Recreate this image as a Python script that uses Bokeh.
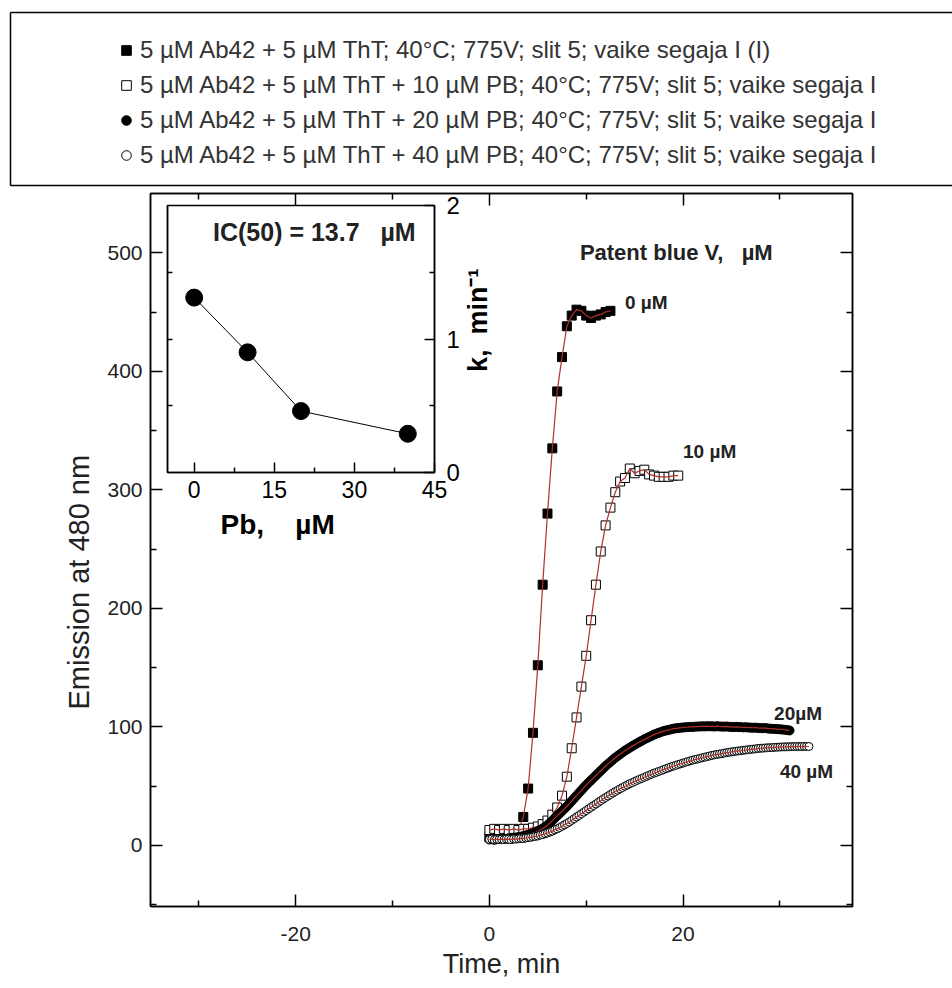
import math
from bokeh.plotting import figure
from bokeh.models import (LinearAxis, FixedTicker, Range1d, Legend, LegendItem, Label,
                          CustomJSTickFormatter)
from bokeh.embed import file_html
from bokeh.resources import INLINE

# ---------------- data ----------------
t_0uM = [0, 0.5, 1, 1.5, 2, 2.5, 3, 3.5, 4, 4.5, 5, 5.5, 6, 6.5, 7, 7.5, 8, 8.5, 9, 9.5,
         10, 10.5, 11, 11.5, 12, 12.5]
y_0uM = [7, 8, 7, 8, 8, 9, 12, 24, 48, 95, 152, 220, 280, 335, 383, 412, 438, 447, 452, 451,
         447, 445, 447, 448, 450, 451]

t_10uM = [0, 0.5, 1, 1.5, 2, 2.5, 3, 3.5, 4, 4.5, 5, 5.5, 6, 6.5, 7, 7.5, 8, 8.5, 9, 9.5,
          10, 10.5, 11, 11.5, 12, 12.5, 13, 13.5, 14, 14.5, 15, 15.5, 16, 16.5, 17, 17.5,
          18, 18.5, 19, 19.5]
y_10uM = [13, 14, 13, 14, 13, 14, 13, 14, 14, 15, 16, 18, 21, 26, 32, 42, 58, 82, 108, 134,
          160, 190, 220, 248, 270, 285, 298, 307, 310, 318, 314, 316, 317, 313, 312, 311,
          311, 311, 312, 312]

t_20uM = [0, 0.25, 0.5, 0.75, 1, 1.25, 1.5, 1.75, 2, 2.25, 2.5, 2.75, 3, 3.25, 3.5, 3.75,
          4, 4.25, 4.5, 4.75, 5, 5.25, 5.5, 5.75, 6, 6.25, 6.5, 6.75, 7, 7.25, 7.5, 7.75,
          8, 8.25, 8.5, 8.75, 9, 9.25, 9.5, 9.75, 10, 10.25, 10.5, 10.75, 11, 11.25, 11.5, 11.75,
          12, 12.25, 12.5, 12.75, 13, 13.25, 13.5, 13.75, 14, 14.25, 14.5, 14.75, 15, 15.25, 15.5, 15.75,
          16, 16.25, 16.5, 16.75, 17, 17.25, 17.5, 17.75, 18, 18.25, 18.5, 18.75, 19, 19.25, 19.5, 19.75,
          20, 20.25, 20.5, 20.75, 21, 21.25, 21.5, 21.75, 22, 22.25, 22.5, 22.75, 23, 23.25, 23.5, 23.75,
          24, 24.25, 24.5, 24.75, 25, 25.25, 25.5, 25.75, 26, 26.25, 26.5, 26.75, 27, 27.25, 27.5, 27.75,
          28, 28.25, 28.5, 28.75, 29, 29.25, 29.5, 29.75, 30, 30.25, 30.5, 30.75, 31]
y_20uM = [5.0, 5.3, 4.8, 5.2, 5.5, 5.3, 5.7, 5.6, 6.0, 6.2, 6.4, 6.7, 7.0, 7.4, 7.9, 8.4,
          9.0, 9.6, 10.4, 11.1, 12.0, 13.1, 14.3, 15.6, 17.0, 19.0, 21.0, 23.0, 25.0, 27.0, 29.0, 31.0,
          33.0, 35.2, 37.5, 39.8, 42.0, 44.3, 46.5, 48.8, 51.0, 53.0, 55.0, 57.0, 59.0, 61.0, 63.0, 65.0,
          67.0, 68.8, 70.5, 72.3, 74.0, 75.5, 77.0, 78.5, 80.0, 81.2, 82.5, 83.8, 85.0, 86.2, 87.3, 88.4,
          89.5, 90.5, 91.5, 92.5, 93.5, 94.3, 95.0, 95.8, 96.5, 97.0, 97.5, 98.0, 98.5, 98.8, 99.0, 99.3,
          99.5, 99.7, 99.8, 100.0, 100.0, 100.2, 100.3, 100.4, 100.5, 100.4, 100.6, 100.5, 100.5, 100.3, 100.6, 100.4,
          100.3, 100.2, 100.4, 100.1, 100.0, 99.9, 100.1, 99.8, 99.8, 99.6, 99.7, 99.5, 99.4, 99.3, 99.4, 99.1,
          99.0, 98.9, 99.0, 98.7, 98.5, 98.4, 98.3, 98.1, 98.0, 97.8, 97.6, 97.3, 97.0]

t_40uM = [0, 0.25, 0.5, 0.75, 1, 1.25, 1.5, 1.75, 2, 2.25, 2.5, 2.75, 3, 3.25, 3.5, 3.75,
          4, 4.25, 4.5, 4.75, 5, 5.25, 5.5, 5.75, 6, 6.25, 6.5, 6.75, 7, 7.25, 7.5, 7.75,
          8, 8.25, 8.5, 8.75, 9, 9.25, 9.5, 9.75, 10, 10.25, 10.5, 10.75, 11, 11.25, 11.5, 11.75,
          12, 12.25, 12.5, 12.75, 13, 13.25, 13.5, 13.75, 14, 14.25, 14.5, 14.75, 15, 15.25, 15.5, 15.75,
          16, 16.25, 16.5, 16.75, 17, 17.25, 17.5, 17.75, 18, 18.25, 18.5, 18.75, 19, 19.25, 19.5, 19.75,
          20, 20.25, 20.5, 20.75, 21, 21.25, 21.5, 21.75, 22, 22.25, 22.5, 22.75, 23, 23.25, 23.5, 23.75,
          24, 24.25, 24.5, 24.75, 25, 25.25, 25.5, 25.75, 26, 26.25, 26.5, 26.75, 27, 27.25, 27.5, 27.75,
          28, 28.25, 28.5, 28.75, 29, 29.25, 29.5, 29.75, 30, 30.25, 30.5, 30.75, 31, 31.25, 31.5, 31.75,
          32, 32.25, 32.5, 32.75, 33]
y_40uM = [5.0, 5.4, 4.8, 5.2, 5.0, 5.3, 4.9, 5.4, 5.2, 5.0, 5.5, 5.3, 5.6, 5.9, 5.8, 6.3,
          6.5, 6.8, 7.3, 7.6, 8.0, 8.7, 9.1, 9.9, 10.5, 11.3, 12.1, 13.2, 14.0, 15.1, 16.2, 17.4,
          18.5, 19.8, 21.2, 22.6, 24.0, 25.3, 26.8, 28.1, 29.5, 30.9, 32.2, 33.7, 35.0, 36.4, 37.8, 39.1,
          40.5, 41.7, 43.0, 44.3, 45.5, 46.6, 47.8, 48.9, 50.0, 51.0, 52.1, 53.0, 54.0, 54.9, 55.8, 56.6,
          57.5, 58.4, 59.3, 60.1, 61.0, 61.7, 62.5, 63.2, 64.0, 64.8, 65.5, 66.3, 67.0, 67.6, 68.3, 68.9,
          69.5, 70.2, 70.8, 71.4, 72.0, 72.5, 73.0, 73.5, 74.0, 74.5, 75.0, 75.5, 76.0, 76.4, 76.8, 77.1,
          77.5, 77.9, 78.3, 78.6, 79.0, 79.2, 79.5, 79.8, 80.0, 80.3, 80.5, 80.8, 81.0, 81.3, 81.5, 81.8,
          82.0, 82.1, 82.3, 82.4, 82.5, 82.6, 82.8, 82.9, 83.0, 83.1, 83.2, 83.2, 83.3, 83.4, 83.4, 83.5,
          83.5, 83.4, 83.6, 83.5, 83.5]

# inset: rate constant versus Patent blue concentration
pb_conc = [0, 10, 20, 40]
k_rate = [1.31, 0.90, 0.46, 0.29]

legend_labels = [
    "5 µM Ab42 + 5 µM ThT; 40°C; 775V; slit 5; vaike segaja I (I)",
    "5 µM Ab42 + 5 µM ThT + 10 µM PB; 40°C; 775V; slit 5; vaike segaja I",
    "5 µM Ab42 + 5 µM ThT + 20 µM PB; 40°C; 775V; slit 5; vaike segaja I",
    "5 µM Ab42 + 5 µM ThT + 40 µM PB; 40°C; 775V; slit 5; vaike segaja I",
]
curve_labels = ["0 µM", "10 µM", "20µM", "40 µM"]

main_x_ticks = [-20, 0, 20]
main_x_minor = [-30, -10, 10, 30]
main_y_ticks = [0, 100, 200, 300, 400, 500]
main_y_minor = [-50, 50, 150, 250, 350, 450]
inset_x_ticks = [0, 15, 30, 45]
inset_x_minor = [7.5, 22.5, 37.5]
inset_y_ticks = [0, 1, 2]
inset_y_minor = [0.5, 1.5]

FONT = "Liberation Sans"
FIT = "#b0302a"
NB = "\u00a0"

plain = CustomJSTickFormatter(code="return tick.toString()")
blank = CustomJSTickFormatter(code="return ''")


def style_axis(ax, ticks, minor, labels=True, size="21px"):
    ax.ticker = FixedTicker(ticks=ticks, minor_ticks=minor)
    ax.axis_line_width = 1.5
    ax.axis_line_color = "black"
    ax.major_tick_in = 12
    ax.major_tick_out = 0
    ax.minor_tick_in = 6
    ax.minor_tick_out = 0
    ax.major_tick_line_width = 1.5
    ax.minor_tick_line_width = 1.5
    ax.major_label_text_font = FONT
    ax.major_label_text_color = "#222222"
    if labels:
        ax.formatter = plain
        ax.major_label_text_font_size = size
    else:
        ax.formatter = blank
        ax.major_label_text_font_size = "0px"
        ax.major_label_standoff = 0


# ---------------- main figure ----------------
p = figure(width=952, height=988, x_range=Range1d(-35, 37.5), y_range=Range1d(-51.5, 550),
           output_backend="svg", toolbar_location=None,
           min_border_left=150, min_border_right=100, min_border_top=193, min_border_bottom=82)
p.xgrid.visible = False
p.ygrid.visible = False
p.outline_line_color = "black"
p.outline_line_width = 1.5
p.background_fill_color = "white"
p.border_fill_color = "white"

style_axis(p.xaxis[0], main_x_ticks, main_x_minor)
style_axis(p.yaxis[0], main_y_ticks, main_y_minor)
p.xaxis[0].major_label_standoff = 20
p.yaxis[0].major_label_standoff = 8
p.xaxis[0].axis_label = "Time, min"
# trailing no-break spaces push the visible title below the axis centre, as in the original
p.yaxis[0].axis_label = "Emission at 480 nm" + NB * 8
for ax in (p.xaxis[0], p.yaxis[0]):
    ax.axis_label_text_font = FONT
    ax.axis_label_text_font_style = "normal"
    ax.axis_label_text_color = "#222222"
p.xaxis[0].axis_label_text_font_size = "27px"
p.yaxis[0].axis_label_text_font_size = "29px"
p.xaxis[0].axis_label_standoff = 5
p.yaxis[0].axis_label_standoff = 9

top_ax = LinearAxis()
style_axis(top_ax, main_x_ticks, main_x_minor, labels=False)
p.add_layout(top_ax, "above")
right_ax = LinearAxis()
style_axis(right_ax, main_y_ticks, main_y_minor, labels=False)
p.add_layout(right_ax, "right")

# series
p.scatter(t_0uM, y_0uM, marker="square", size=9, fill_color="black", line_color="black")
p.line(t_0uM, y_0uM, line_color=FIT, line_width=1.2)
p.scatter(t_10uM, y_10uM, marker="square", size=9, fill_color="white", line_color="black",
          line_width=1)
p.line(t_10uM, y_10uM, line_color=FIT, line_width=1.2)
p.scatter(t_20uM, y_20uM, marker="circle", size=9, fill_color="black", line_color="black")
p.line(t_20uM, y_20uM, line_color=FIT, line_width=1.2)
p.scatter(t_40uM, y_40uM, marker="circle", size=8, fill_color="white", line_color="black",
          line_width=1)
p.line(t_40uM, y_40uM, line_color=FIT, line_width=1.2)

# curve annotations
ann_style = dict(text_font=FONT, text_font_style="bold", text_font_size="19px",
                 text_color="#222222", text_baseline="middle")
p.add_layout(Label(x=19.3, y=500, text="Patent blue V," + NB * 3 + "µM", text_align="center",
                   text_font=FONT, text_font_style="bold", text_font_size="22px",
                   text_color="#222222", text_baseline="middle"))
p.add_layout(Label(x=t_0uM[-1] + 1.5, y=458, text=curve_labels[0], **ann_style))
p.add_layout(Label(x=t_10uM[-1] + 0.5, y=332, text=curve_labels[1], **ann_style))
p.add_layout(Label(x=t_20uM[-1] - 1.6, y=111, text=curve_labels[2], **ann_style))
p.add_layout(Label(x=t_40uM[-1] - 3.0, y=62, text=curve_labels[3], **ann_style))

# inset's right-hand axis title (reads bottom-to-top, drawn on the main canvas behind the inset)
p.add_layout(Label(x=-1.2, y=443, text="k," + NB * 2 + "min⁻¹", angle=math.pi / 2,
                   text_align="center", text_baseline="middle", text_font=FONT,
                   text_font_style="bold", text_font_size="27px", text_color="black"))

# ---------------- legend box (separate small figure over the top margin) ----------------
lg = figure(width=952, height=190, x_range=Range1d(0, 1), y_range=Range1d(0, 1),
            output_backend="svg", toolbar_location=None,
            min_border_left=10, min_border_top=12, min_border_right=0, min_border_bottom=5)
lg.xaxis.visible = False
lg.yaxis.visible = False
lg.xgrid.visible = False
lg.ygrid.visible = False
lg.outline_line_color = None
lg.background_fill_alpha = 0
lg.border_fill_alpha = 0
for side in ("left", "above", "below"):
    a = LinearAxis()
    style_axis(a, [], [], labels=False)
    a.major_tick_in = 0
    a.minor_tick_in = 0
    lg.add_layout(a, side)

# hidden copies of the four series, used only as legend swatches
g0 = lg.scatter(t_0uM, y_0uM, marker="square", fill_color="black", line_color="black",
                visible=False)
g10 = lg.scatter(t_10uM, y_10uM, marker="square", fill_color="white", line_color="black",
                 visible=False)
g20 = lg.scatter(t_20uM, y_20uM, marker="circle", fill_color="black", line_color="black",
                 visible=False)
g40 = lg.scatter(t_40uM, y_40uM, marker="circle", fill_color="white", line_color="black",
                 visible=False)
legend = Legend(items=[LegendItem(label=legend_labels[0], renderers=[g0]),
                       LegendItem(label=legend_labels[1], renderers=[g10]),
                       LegendItem(label=legend_labels[2], renderers=[g20]),
                       LegendItem(label=legend_labels[3], renderers=[g40])],
                location=(104, 16), orientation="vertical",
                glyph_width=24, glyph_height=24, label_height=20, spacing=7, padding=0,
                margin=0, label_standoff=2, label_text_font=FONT, label_text_font_size="24px",
                label_text_color="#333333", border_line_alpha=0, background_fill_alpha=0)
lg.add_layout(legend, "center")
lg.styles = {"position": "absolute", "left": "0px", "top": "0px", "z-index": "4"}

# ---------------- inset ----------------
ins = figure(frame_width=267, frame_height=267, x_range=Range1d(-5, 45), y_range=Range1d(0, 2),
             output_backend="svg", toolbar_location=None, y_axis_location="right",
             min_border_left=3, min_border_top=20, min_border_right=0, min_border_bottom=0)
ins.xgrid.visible = False
ins.ygrid.visible = False
ins.outline_line_color = "black"
ins.outline_line_width = 1.5
ins.border_fill_alpha = 0
ins.background_fill_color = "white"

style_axis(ins.xaxis[0], inset_x_ticks, inset_x_minor, size="23px")
style_axis(ins.yaxis[0], inset_y_ticks, inset_y_minor, size="24px")
for ax in (ins.xaxis[0], ins.yaxis[0]):
    ax.major_tick_in = 10
    ax.minor_tick_in = 5
    ax.major_label_text_color = "black"
    ax.axis_label_text_font = FONT
    ax.axis_label_text_font_style = "bold"
    ax.axis_label_text_color = "black"
ins.xaxis[0].axis_label_text_font_size = "28px"
ins.xaxis[0].major_label_standoff = 8
ins.yaxis[0].major_label_standoff = 12
# trailing no-break spaces shift the visible title left, as in the original
ins.xaxis[0].axis_label = "Pb," + NB * 4 + "µM" + NB * 6
ins.xaxis[0].axis_label_standoff = 8

ins_left = LinearAxis()
style_axis(ins_left, [0.5, 1, 1.5], [], labels=False)
ins_left.major_tick_in = 5
ins.add_layout(ins_left, "left")

ins.line(pb_conc, k_rate, line_color="black", line_width=1)
ins.scatter(pb_conc, k_rate, marker="circle", size=17, fill_color="black", line_color="black")
ins.add_layout(Label(x=22.5, y=1.8, text="IC(50) = 13.7" + NB * 3 + "µM", text_align="center",
                     text_baseline="middle", text_font=FONT, text_font_style="bold",
                     text_font_size="25px", text_color="#222222"))
ins.styles = {"position": "absolute", "left": "164px", "top": "185px", "z-index": "5"}

open("out.html", "w").write(file_html([p, lg, ins], INLINE))
